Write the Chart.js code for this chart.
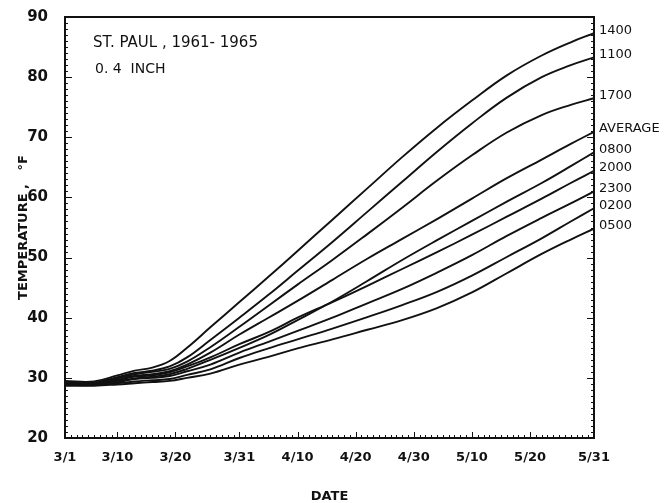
<!DOCTYPE html>
<html>
<head>
<meta charset="utf-8">
<script src="https://cdn.jsdelivr.net/npm/chart.js@4.4.0/dist/chart.umd.min.js"></script>
<style>
  html, body { margin: 0; padding: 0; background: #fff; }
  #wrap { width: 664px; height: 503px; }
</style>
</head>
<body>
<div id="wrap"><canvas id="tempChart" width="664" height="503"></canvas></div>
<script>
// days counted from March 1
const days = [0, 5, 9, 12, 15, 18, 21, 25, 30, 35, 40, 46, 52, 58, 64, 70, 76, 82, 87, 91];

// mean temperature (°F) at 0.4 inch, by hour of day
const t1400 = [29.5, 29.4, 30.4, 31.2, 31.7, 32.8, 35.0, 38.4, 42.6, 46.8, 51.1, 56.3, 61.5, 66.7, 71.6, 76.1, 80.3, 83.6, 85.8, 87.3];
const t1100 = [29.3, 29.2, 30.1, 30.8, 31.2, 31.9, 33.4, 36.3, 40.0, 43.8, 47.8, 52.6, 57.6, 62.6, 67.6, 72.3, 76.6, 80.0, 82.0, 83.3];
const t1700 = [29.2, 29.1, 29.9, 30.6, 31.0, 31.5, 32.7, 35.1, 38.5, 42.0, 45.5, 49.6, 53.9, 58.3, 62.8, 67.0, 70.8, 73.7, 75.4, 76.5];
const tAvg  = [29.1, 29.0, 29.7, 30.3, 30.6, 31.1, 32.2, 34.2, 37.2, 40.0, 42.8, 46.3, 49.8, 53.1, 56.4, 59.8, 63.2, 66.3, 68.9, 70.9];
const t0800 = [29.0, 28.9, 29.4, 29.9, 30.2, 30.6, 31.5, 33.0, 35.0, 37.1, 39.6, 42.7, 46.1, 49.6, 52.9, 56.1, 59.3, 62.4, 65.2, 67.5];
const t2000 = [29.1, 29.0, 29.6, 30.2, 30.4, 30.9, 31.9, 33.4, 35.6, 37.6, 40.0, 42.6, 45.3, 48.1, 50.9, 53.8, 56.8, 59.8, 62.4, 64.4];
const t2300 = [28.9, 28.9, 29.3, 29.8, 30.0, 30.3, 31.1, 32.2, 34.2, 36.0, 37.8, 40.0, 42.4, 44.8, 47.5, 50.4, 53.6, 56.6, 59.0, 61.0];
const t0200 = [28.8, 28.8, 29.1, 29.4, 29.6, 29.8, 30.5, 31.4, 33.3, 34.9, 36.4, 38.2, 40.1, 42.1, 44.3, 47.0, 50.1, 53.2, 56.0, 58.2];
const t0500 = [28.7, 28.7, 28.9, 29.1, 29.3, 29.5, 30.0, 30.7, 32.2, 33.5, 34.9, 36.4, 38.0, 39.6, 41.6, 44.2, 47.4, 50.6, 53.0, 54.8];

const seriesNames = ['1400', '1100', '1700', 'AVERAGE', '0800', '2000', '2300', '0200', '0500'];
const seriesValues = [t1400, t1100, t1700, tAvg, t0800, t2000, t2300, t0200, t0500];

const dateTicks = [0, 9, 19, 30, 40, 50, 60, 70, 80, 91];
const dateLabels = ['3/1', '3/10', '3/20', '3/31', '4/10', '4/20', '4/30', '5/10', '5/20', '5/31'];
const tempTicks = [20, 30, 40, 50, 60, 70, 80, 90];

const INK = '#111';
const FONT = "'DejaVu Sans', sans-serif";

// frame, inward tick marks, notes and end-of-line labels
const frameTicks = {
  id: 'frameTicks',
  afterDatasetsDraw(chart) {
    const { ctx, chartArea: a, scales: { x, y } } = chart;
    ctx.save();
    ctx.strokeStyle = INK;
    ctx.lineWidth = 1;
    ctx.beginPath();
    for (let d = 0; d <= 91; d++) {
      const px = Math.round(x.getPixelForValue(d)) + 0.5;
      const len = dateTicks.includes(d) ? 6 : 3;
      ctx.moveTo(px, a.bottom);
      ctx.lineTo(px, a.bottom - len);
    }
    for (let t = 20; t <= 90; t++) {
      const py = Math.round(y.getPixelForValue(t)) + 0.5;
      const len = t % 10 === 0 ? 7 : 3;
      ctx.moveTo(a.left, py);
      ctx.lineTo(a.left + len, py);
      ctx.moveTo(a.right, py);
      ctx.lineTo(a.right - len, py);
    }
    ctx.stroke();

    ctx.lineWidth = 2;
    ctx.strokeRect(a.left, a.top, a.right - a.left, a.bottom - a.top);

    ctx.fillStyle = INK;
    ctx.textBaseline = 'middle';
    ctx.textAlign = 'left';
    ctx.font = '15px ' + FONT;
    ctx.fillText('ST. PAUL , 1961- 1965', a.left + 28, a.top + 26);
    ctx.font = '14px ' + FONT;
    ctx.fillText('0. 4  INCH', a.left + 30, a.top + 52);

    ctx.font = '13px ' + FONT;
    seriesNames.forEach((name, i) => {
      const vals = seriesValues[i];
      const py = y.getPixelForValue(vals[vals.length - 1]) - 3;
      ctx.fillText(name, a.right + 5, py);
    });
    ctx.restore();
  }
};

const datasets = seriesValues.map((vals, i) => ({
  label: seriesNames[i],
  data: days.map((d, j) => ({ x: d, y: vals[j] })),
  borderColor: INK,
  borderWidth: 1.9,
  pointRadius: 0,
  fill: false,
  tension: 0.4
}));

new Chart(document.getElementById('tempChart'), {
  type: 'line',
  data: { datasets: datasets },
  options: {
    responsive: false,
    animation: false,
    devicePixelRatio: 1,
    layout: { padding: { top: 17, right: 70, left: 0, bottom: 0 } },
    plugins: { legend: { display: false }, tooltip: { enabled: false } },
    scales: {
      x: {
        type: 'linear',
        min: 0,
        max: 91,
        afterFit(scale) {
          scale.height = 65;
          scale.paddingLeft = 0;
          scale.paddingRight = 0;
        },
        afterBuildTicks(scale) { scale.ticks = dateTicks.map(v => ({ value: v })); },
        ticks: {
          callback: (v, i) => dateLabels[i],
          autoSkip: false,
          maxRotation: 0,
          padding: 12,
          color: INK,
          font: { family: FONT, size: 13, weight: 'bold' }
        },
        grid: { display: false, drawTicks: false },
        border: { display: false },
        title: {
          display: true,
          text: 'DATE',
          color: INK,
          padding: { top: 0, bottom: 0 },
          font: { family: FONT, size: 13, weight: 'bold', lineHeight: 1 }
        }
      },
      y: {
        min: 20,
        max: 90,
        afterFit(scale) {
          scale.width = 65;
          scale.paddingTop = 0;
          scale.paddingBottom = 0;
        },
        afterBuildTicks(scale) { scale.ticks = tempTicks.map(v => ({ value: v })); },
        ticks: {
          padding: 17,
          color: INK,
          font: { family: FONT, size: 15, weight: 'bold' }
        },
        grid: { display: false, drawTicks: false },
        border: { display: false },
        title: {
          display: true,
          text: 'TEMPERATURE ,   °F',
          color: INK,
          padding: { top: 17, bottom: 0 },
          font: { family: FONT, size: 13, weight: 'bold', lineHeight: 1 }
        }
      }
    }
  },
  plugins: [frameTicks]
});
</script>
</body>
</html>
